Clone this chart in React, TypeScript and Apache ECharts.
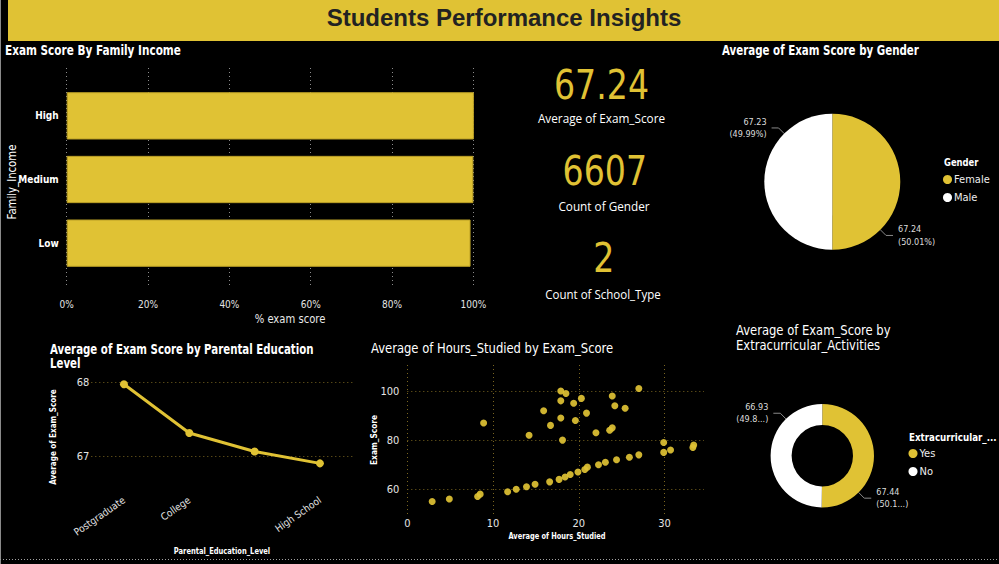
import React, { useEffect, useRef } from 'react';
import * as echarts from 'echarts';

const YELLOW = '#E0C234';
const NARROW = "'DejaVu Sans Condensed', 'Liberation Sans Narrow', Roboto, sans-serif";
const UI = "'Open Sans', 'Noto Sans', sans-serif";

const dashboardTitle = 'Students Performance Insights';

const incomeTitle = 'Exam Score By Family Income';
const incomeCategories = ['High', 'Medium', 'Low'];
const incomeScorePct = [100.8, 100.0, 99.3];

const kpiValues = ['67.24', '6607', '2'];
const kpiLabels = ['Average of Exam_Score', 'Count of Gender', 'Count of School_Type'];

const genderTitle = 'Average of Exam Score by Gender';
const genderNames = ['Female', 'Male'];
const genderAvgScore = [67.244, 67.227];

const parentTitle = 'Average of Exam Score by Parental Education\nLevel';
const parentEduLevels = ['Postgraduate', 'College', '', 'High School'];
const parentEduAvgScore = [67.98, 67.32, 67.07, 66.91];
const parentEduTicks = [67, 68];

const scatterTitle = 'Average of Hours_Studied by Exam_Score';
const hoursStudied = [2.9, 4.9, 8.2, 8.5, 11.7, 12.7, 13.9, 14.9, 16.6, 17.7, 18.4, 19.0, 19.9, 20.7, 21.0, 22.3, 23.1, 24.4, 25.9, 27.0, 29.9, 30.7, 33.3, 33.4, 29.9, 18.1, 14.2, 22.0, 23.6, 23.9, 16.7, 8.9, 19.6, 17.9, 20.9, 15.9, 25.4, 24.2, 19.4, 17.9, 20.3, 23.9, 18.5, 17.9, 27.0];
const examScores = [55, 56, 57, 58, 59, 60, 61, 62, 63, 64, 65, 66, 67, 68, 69, 70, 71, 72, 73, 74, 75, 76, 77, 78, 79, 80, 82, 83, 84, 85, 86, 87, 88, 89, 91, 92, 93, 94, 95, 96, 97, 98, 99, 100, 101];
const hoursTicks = [0, 10, 20, 30];
const scoreTicks = [60, 80, 100];

const extraTitle = 'Average of Exam_Score by\nExtracurricular_Activities';
const extraNames = ['Yes', 'No'];
const extraAvgScore = [67.44, 66.93];

function txt(x: number, y: number, text: string, o: any = {}) {
  return {
    type: 'text',
    x,
    y,
    rotation: o.rotation || 0,
    scaleX: o.sx || 1,
    silent: true,
    style: {
      text,
      fill: o.fill || '#ffffff',
      fontSize: o.fontSize || 12,
      fontFamily: o.fontFamily || NARROW,
      fontWeight: o.fontWeight || 'normal',
      align: o.align || 'left',
      verticalAlign: o.verticalAlign || 'middle',
      lineHeight: o.lineHeight,
    },
  };
}

export default function App() {
  const ref = useRef<HTMLDivElement>(null);

  useEffect(() => {
    document.body.style.margin = '0';
    document.body.style.background = '#000';
    if (!ref.current) return;
    const chart = echarts.init(ref.current, undefined, { renderer: 'svg' });

    const gridDot = { color: '#7a6620', type: [1, 3] as any, width: 1 };
    const axisLblColor = '#e4e4e4';

    const graphics: any[] = [
      { type: 'line', silent: true, shape: { x1: 0.5, y1: 0, x2: 0.5, y2: 564 }, style: { stroke: '#8a8a8a', lineWidth: 1 } },
      { type: 'rect', silent: true, shape: { x: 8, y: 0, width: 991, height: 41 }, style: { fill: YELLOW } },
      txt(504, 17, dashboardTitle, { fill: '#222222', fontSize: 24, fontWeight: 'bold', fontFamily: "'Liberation Sans', Arial, sans-serif", align: 'center' }),
      { type: 'line', silent: true, shape: { x1: 0, y1: 559.5, x2: 999, y2: 559.5 }, style: { stroke: '#a0a0a0', lineWidth: 1, lineDash: [1, 2] } },

      txt(5, 50, incomeTitle, { fontSize: 14, fontWeight: 'bold', sx: 0.833 }),
      txt(12, 182, 'Family_Income', { fontSize: 12, rotation: Math.PI / 2, align: 'center', sx: 0.94 }),
      txt(290, 319, '% exam score', { fontSize: 12, align: 'center', fill: '#e8e8e8', sx: 0.93 }),

      txt(601.5, 84.5, kpiValues[0], { fontSize: 41, fill: YELLOW, align: 'center', sx: 0.9 }),
      txt(601.5, 118, kpiLabels[0], { fontSize: 12, fontFamily: UI, align: 'center', sx: 0.98 }),
      txt(604.8, 171, kpiValues[1], { fontSize: 41, fill: YELLOW, align: 'center', sx: 0.9 }),
      txt(604, 206, kpiLabels[1], { fontSize: 12, fontFamily: UI, align: 'center', sx: 0.98 }),
      txt(603.8, 258, kpiValues[2], { fontSize: 41, fill: YELLOW, align: 'center', sx: 0.9 }),
      txt(603, 294, kpiLabels[2], { fontSize: 12, fontFamily: UI, align: 'center', sx: 0.96 }),

      txt(722, 50, genderTitle, { fontSize: 14, fontWeight: 'bold', sx: 0.816 }),
      txt(944, 162, 'Gender', { fontSize: 11, fontWeight: 'bold', sx: 0.85 }),

      txt(50, 356, parentTitle, { fontSize: 13.5, fontWeight: 'bold', lineHeight: 14.5, sx: 0.843 }),
      txt(53, 437, 'Average of Exam_Score', { fontSize: 8.5, fontWeight: 'bold', rotation: Math.PI / 2, align: 'center', sx: 0.95 }),
      txt(222, 551, 'Parental_Education_Level', { fontSize: 9, fontWeight: 'bold', align: 'center', sx: 0.83 }),

      txt(371, 348.5, scatterTitle, { fontSize: 14, sx: 0.92 }),
      txt(374, 440, 'Exam_Score', { fontSize: 9, fontWeight: 'bold', rotation: Math.PI / 2, align: 'center', sx: 0.92 }),
      txt(557, 536, 'Average of Hours_Studied', { fontSize: 9, fontWeight: 'bold', align: 'center', sx: 0.82 }),

      txt(736, 338, extraTitle, { fontSize: 14, lineHeight: 14.5, sx: 0.92 }),
      txt(909, 437, 'Extracurricular_...', { fontSize: 11, fontWeight: 'bold', sx: 0.88 }),
    ];

    const legendBase = {
      orient: 'vertical',
      padding: 0,
      icon: 'circle',
      itemWidth: 9,
      itemHeight: 9,
      itemGap: 7,
      textStyle: { color: '#eeeeee', fontSize: 11, fontFamily: NARROW, padding: [0, 0, 0, -3] },
    };

    const pieLabel = (fmt: (p: any) => string) => ({
      show: true,
      position: 'outside',
      color: '#dcdcdc',
      fontSize: 9,
      fontFamily: NARROW,
      lineHeight: 12.5,
      formatter: fmt,
    });
    const pieLabelLine = { show: true, length: 8, length2: 7, smooth: false, lineStyle: { color: '#8a8a8a', width: 1 } };
    const genderFmt = (p: any) => `${p.value.toFixed(2)}\n(${p.percent.toFixed(2)}%)`;
    const extraFmt = (p: any) => `${p.value.toFixed(2)}\n(${p.percent.toFixed(2).slice(0, 4)}...)`;

    const genderData = genderNames.map((n, i) => ({ name: n, value: genderAvgScore[i] }));
    const extraData = extraNames.map((n, i) => ({ name: n, value: extraAvgScore[i] }));

    const option: any = {
      animation: false,
      backgroundColor: '#000000',
      graphic: { elements: graphics },
      legend: [
        { ...legendBase, data: genderNames, left: 943, top: 174 },
        { ...legendBase, data: extraNames, left: 908.5, top: 448 },
      ],
      grid: [
        { left: 66.7, width: 406.7, top: 68, height: 217 },
        { left: 66.7, width: 406.7, top: 84, height: 191 },
        { left: 91.3, width: 261.3, top: 375.3, height: 103.6 },
        { left: 407.3, width: 296.7, top: 365, height: 150 },
      ],
      xAxis: [
        {
          gridIndex: 0,
          type: 'value',
          min: 0,
          max: 100,
          interval: 20,
          axisLine: { show: false },
          axisTick: { show: false },
          axisLabel: { formatter: '{value}%', color: axisLblColor, fontSize: 10, fontFamily: NARROW, margin: 14 },
          splitLine: { show: true, lineStyle: { color: '#8c8c8c', type: [1, 3], width: 1 } },
        },
        { gridIndex: 1, type: 'value', min: 0, max: 100, show: false },
        {
          gridIndex: 2,
          type: 'category',
          data: parentEduLevels,
          boundaryGap: true,
          axisLine: { show: false },
          axisTick: { show: false },
          axisLabel: { rotate: 35, color: axisLblColor, fontSize: 10, fontFamily: NARROW, margin: 20, interval: 0 },
          splitLine: { show: false },
        },
        {
          gridIndex: 3,
          type: 'value',
          min: 0,
          max: 34.6,
          axisLine: { show: false },
          axisTick: { show: false, customValues: hoursTicks },
          axisLabel: { customValues: hoursTicks, color: axisLblColor, fontSize: 11, fontFamily: NARROW, margin: 3 },
          splitLine: { show: true, lineStyle: gridDot },
        },
      ],
      yAxis: [
        { gridIndex: 0, type: 'category', data: incomeCategories, show: false },
        {
          gridIndex: 1,
          type: 'category',
          data: incomeCategories,
          inverse: true,
          axisLine: { show: false },
          axisTick: { show: false },
          axisLabel: { color: '#ffffff', fontWeight: 'bold', fontSize: 10, fontFamily: NARROW, margin: 8 },
        },
        {
          gridIndex: 2,
          type: 'value',
          min: 66.7,
          max: 68.1,
          axisLine: { show: false },
          axisTick: { show: false, customValues: parentEduTicks },
          axisLabel: { customValues: parentEduTicks, color: axisLblColor, fontSize: 11, fontFamily: NARROW, margin: 2 },
          splitLine: { show: true, lineStyle: gridDot },
        },
        {
          gridIndex: 3,
          type: 'value',
          min: 49.5,
          max: 110.6,
          axisLine: { show: false },
          axisTick: { show: false, customValues: scoreTicks },
          axisLabel: { customValues: scoreTicks, color: axisLblColor, fontSize: 11, fontFamily: NARROW, margin: 8 },
          splitLine: { show: true, lineStyle: gridDot },
        },
      ],
      color: [YELLOW, '#ffffff'],
      series: [
        {
          type: 'bar',
          xAxisIndex: 1,
          yAxisIndex: 1,
          data: incomeScorePct,
          barCategoryGap: '25.7%',
          itemStyle: { color: YELLOW, borderColor: '#b99e25', borderWidth: 1 },
        },
        {
          type: 'line',
          xAxisIndex: 2,
          yAxisIndex: 2,
          data: parentEduAvgScore,
          symbol: 'circle',
          symbolSize: 8,
          lineStyle: { color: YELLOW, width: 3 },
          itemStyle: { color: YELLOW },
        },
        {
          type: 'scatter',
          xAxisIndex: 3,
          yAxisIndex: 3,
          data: hoursStudied.map((h, i) => [h, examScores[i]]),
          symbolSize: 7,
          itemStyle: { color: YELLOW, opacity: 0.92 },
        },
        {
          type: 'pie',
          center: [832.3, 181.7],
          radius: 68,
          startAngle: 90,
          data: genderData,
          label: { show: false },
          labelLine: { show: false },
          emphasis: { disabled: true },
        },
        {
          type: 'pie',
          center: [822.3, 455.7],
          radius: [30.7, 51.7],
          startAngle: 90,
          data: extraData,
          label: { show: false },
          labelLine: { show: false },
          emphasis: { disabled: true },
        },
        {
          type: 'pie',
          silent: true,
          center: [832.3, 181.7],
          radius: 68,
          startAngle: 45,
          data: genderData,
          itemStyle: { color: 'rgba(0,0,0,0)' },
          label: pieLabel(genderFmt),
          labelLine: pieLabelLine,
          emphasis: { disabled: true },
        },
        {
          type: 'pie',
          silent: true,
          center: [822.3, 455.7],
          radius: [30.7, 51.7],
          startAngle: 45,
          data: extraData,
          itemStyle: { color: 'rgba(0,0,0,0)' },
          label: pieLabel(extraFmt),
          labelLine: pieLabelLine,
          emphasis: { disabled: true },
        },
      ],
    };

    chart.setOption(option);
    return () => chart.dispose();
  }, []);

  return <div ref={ref} style={{ width: 999, height: 564, background: '#000' }} />;
}
